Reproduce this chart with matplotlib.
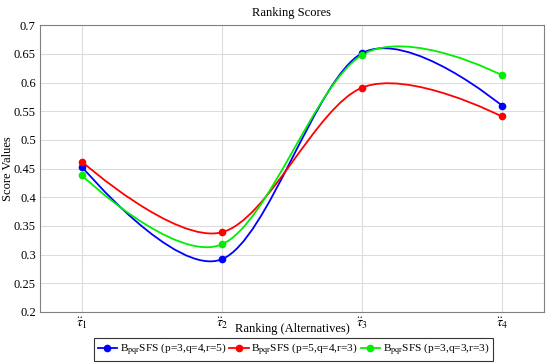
import numpy as np
import matplotlib
matplotlib.use("Agg")
import matplotlib.pyplot as plt
from matplotlib.path import Path
from matplotlib.patches import PathPatch
from matplotlib.lines import Line2D

plt.rcParams['font.family'] = ['Liberation Serif', 'DejaVu Serif']
plt.rcParams['mathtext.fontset'] = 'stix'

alternatives = [1, 2, 3, 4]
tick_labels = [r'$\ddot{\tau}_1$', r'$\ddot{\tau}_2$', r'$\ddot{\tau}_3$', r'$\ddot{\tau}_4$']
scores_345 = [0.453, 0.292, 0.651, 0.560]
scores_543 = [0.462, 0.339, 0.591, 0.541]
scores_333 = [0.438, 0.318, 0.648, 0.613]
labels = [r'B$_{\mathrm{pqr}}$SFS (p=3,q=4,r=5)', r'B$_{\mathrm{pqr}}$SFS (p=5,q=4,r=3)',
          r'B$_{\mathrm{pqr}}$SFS (p=3,q=3,r=3)']
colors = ['#0000ff', '#ff0000', '#00ee00']


def smooth_path(xs, ys, k=0.165):
    # pgfplots-like "smooth" curve: cubic bezier with neighbour-based controls
    p = np.column_stack([xs, ys]).astype(float)
    verts = [p[0]]
    codes = [Path.MOVETO]
    n = len(p)
    for i in range(n - 1):
        if i == 0:
            c1 = p[0]
        else:
            c1 = p[i] + k * (p[i + 1] - p[i - 1])
        if i + 1 == n - 1:
            c2 = p[i + 1]
        else:
            c2 = p[i + 1] - k * (p[i + 2] - p[i])
        verts += [c1, c2, p[i + 1]]
        codes += [Path.CURVE4] * 3
    return Path(verts, codes)


fig = plt.figure(figsize=(5.5, 3.63), dpi=100)
ax = fig.add_axes([0.0727, 0.1405, 0.916, 0.79])

handles = []
for ys, c, lab in zip([scores_345, scores_543, scores_333], colors, labels):
    patch = PathPatch(smooth_path(alternatives, ys), facecolor='none', edgecolor=c, lw=1.3,
                      transform=ax.transData, zorder=3)
    ax.add_patch(patch)
    ax.plot(alternatives, ys, 'o', color=c, ms=4.5, zorder=4)
    handles.append(Line2D([], [], color=c, lw=1.3, marker='o', ms=4.5))

ax.set_xlim(0.7, 4.3)
ax.set_ylim(0.2, 0.7)
ax.set_xticks(alternatives)
ax.set_xticklabels(tick_labels, fontsize=10)
yt = np.arange(0.2, 0.7001, 0.05)
ax.set_yticks(yt)
ax.set_yticklabels(['%g' % round(v, 2) for v in yt], fontsize=9)
ax.grid(True, color='#dcdcdc', lw=0.8)
ax.set_axisbelow(True)
for s in ax.spines.values():
    s.set_color('#808080')
ax.tick_params(length=0, pad=3)

ax.set_title('Ranking Scores', fontsize=9, pad=7)
ax.set_xlabel('Ranking (Alternatives)', fontsize=9, labelpad=-6)
ax.set_ylabel('Score Values', fontsize=9)
ax.yaxis.set_label_coords(-0.052, 0.5)

leg = fig.legend(handles, labels, loc='center', bbox_to_anchor=(0.534, 0.038), ncol=3,
                 fontsize=8.2, frameon=True, fancybox=False, handlelength=1.7,
                 handletextpad=0.25, columnspacing=0.2, borderpad=0.3, borderaxespad=0)
leg.get_frame().set_edgecolor('black')
leg.get_frame().set_linewidth(0.8)

fig.savefig('out.png', dpi=100)
